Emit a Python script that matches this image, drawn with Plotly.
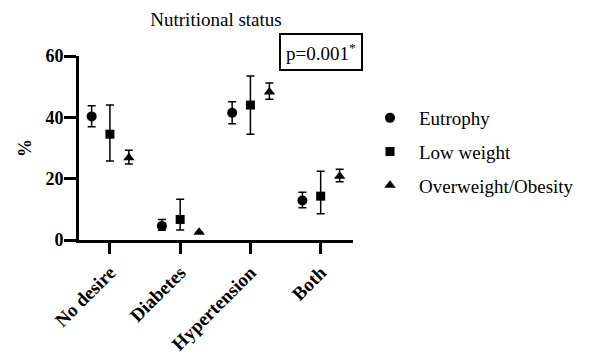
import plotly.graph_objects as go

categories = ["No desire", "Diabetes", "Hypertension", "Both"]
series_names = ["Eutrophy", "Low weight", "Overweight/Obesity"]

eutrophy = [40.3, 4.6, 41.5, 12.9]
eutrophy_up = [3.5, 2.1, 3.6, 2.7]
eutrophy_down = [3.4, 1.4, 3.6, 2.4]

low_weight = [34.5, 6.7, 44.0, 14.3]
low_weight_up = [9.5, 6.6, 9.5, 8.1]
low_weight_down = [8.7, 3.4, 9.5, 5.7]

overweight = [26.8, 2.5, 48.3, 20.8]
overweight_up = [2.5, 0.0, 2.9, 2.3]
overweight_down = [2.0, 0.0, 2.4, 1.8]

y_ticks = [0, 20, 40, 60]

FONT = "Liberation Serif, Times New Roman, serif"

offsets = [-0.26, 0.0, 0.27]
symbols = ["circle", "square", "triangle-up"]
sizes = [10, 9, 10]
values = [eutrophy, low_weight, overweight]
ups = [eutrophy_up, low_weight_up, overweight_up]
downs = [eutrophy_down, low_weight_down, overweight_down]

fig = go.Figure()
for k in range(3):
    xs = [i + offsets[k] for i in range(len(categories))]
    fig.add_trace(go.Scatter(
        x=xs, y=values[k], mode="markers", name=series_names[k],
        legendgroup=series_names[k],
        marker=dict(symbol=symbols[k], size=sizes[k], color="black"),
        error_y=dict(type="data", symmetric=False, array=ups[k], arrayminus=downs[k],
                     color="black", thickness=1.5, width=4),
        cliponaxis=False,
    ))

fig.update_layout(
    width=590, height=354, autosize=False,
    margin=dict(l=79, r=237, t=56, b=114, autoexpand=False),
    paper_bgcolor="white", plot_bgcolor="white",
    font=dict(family=FONT, color="black", size=19),
    title=dict(text="Nutritional status", x=216/590, xref="container", xanchor="center",
               y=1 - 19.5/354, yref="container", yanchor="middle",
               font=dict(family=FONT, size=19, color="black")),
    showlegend=True,
    legend=dict(xref="container", x=361/590, yref="container", y=1 - 99/354,
                xanchor="left", yanchor="top", tracegroupgap=6, itemwidth=48,
                font=dict(family=FONT, size=19, color="black"),
                bgcolor="rgba(0,0,0,0)"),
    xaxis=dict(range=[-0.44, 3.46], tickmode="array", tickvals=list(range(len(categories))),
               ticktext=categories, tickangle=-45, showgrid=False, zeroline=False,
               automargin=False,
               showline=True, linewidth=3, linecolor="black",
               ticks="outside", ticklen=11, tickwidth=3, tickcolor="black",
               tickfont=dict(family=FONT, size=19, color="black", weight="bold")),
    yaxis=dict(range=[0, 60], tickmode="array", tickvals=y_ticks, showgrid=False, zeroline=False,
               automargin=False,
               showline=True, linewidth=3, linecolor="black",
               ticks="outside", ticklen=12, tickwidth=3, tickcolor="black",
               ticklabelstandoff=-3,
               tickfont=dict(family=FONT, size=18, color="black", weight="bold"),
               title=dict(text="%", standoff=10,
                          font=dict(family=FONT, size=18, color="black", weight="bold"))),
)

fig.add_annotation(
    text="p=0.001<sup>*</sup>", xref="paper", yref="paper",
    x=(320.5 - 79) / 274, y=(240 - 51.5) / 184, xanchor="center", yanchor="middle",
    showarrow=False, bordercolor="black", borderwidth=2, borderpad=5,
    font=dict(family=FONT, size=19, color="black"),
)

fig.write_html("out.html")
